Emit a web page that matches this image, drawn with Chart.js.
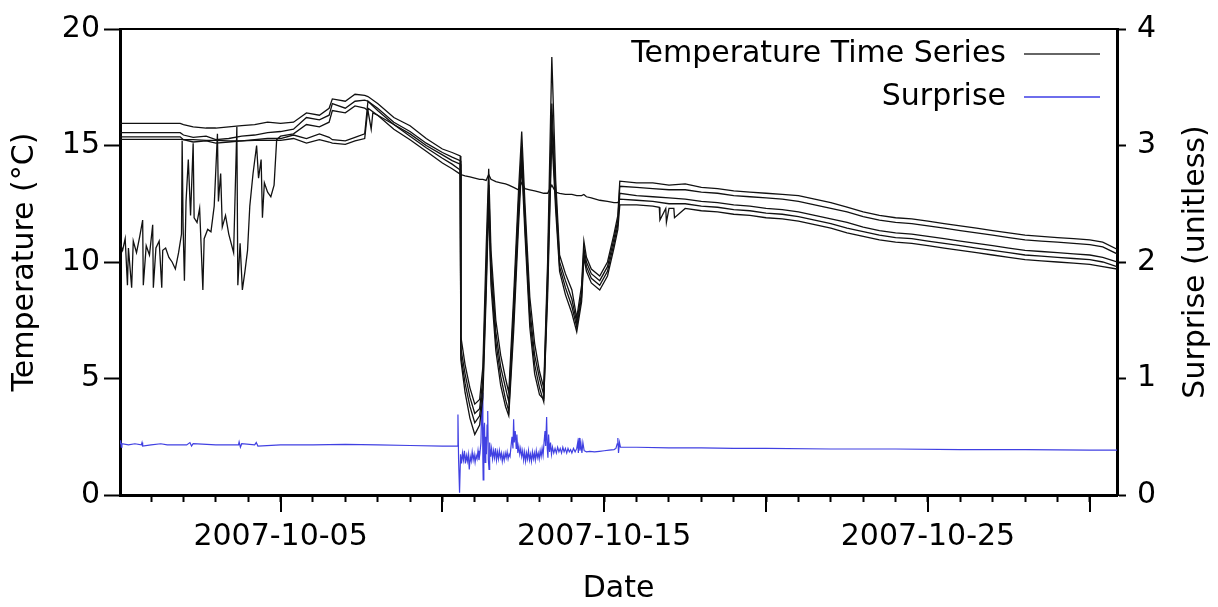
<!DOCTYPE html>
<html lang="en">
  <head>
    <meta charset="UTF-8" />
    <title>Temperature and Surprise</title>
    <script src="https://cdn.jsdelivr.net/npm/chart.js@4.4.0/dist/chart.umd.min.js"></script>
    <style>
      html, body { margin: 0; padding: 0; background: #fff; }
      canvas { display: block; }
    </style>
  </head>
  <body>
    <canvas id="chart" width="1218" height="607"></canvas>

    <script>
      // x values are days of October 2007 (5 = 2007-10-05 00:00)
      const xMin = 0.04;
      const xMax = 30.84;
      const labelDays = [5, 15, 25]; // days that get a date label
      const majorDays = [5, 10, 15, 20, 25, 30]; // days with a long tick

      // shared time grid for the four sensors below
      const days = [
        0.04, 0.5, 1.0, 1.5, 1.9, 2.0, 2.3, 2.7, 3.0, 3.4,
        3.8, 4.2, 4.6, 5.0, 5.4, 5.8, 6.2, 6.5, 6.6, 7.0,
        7.3, 7.6, 7.7, 8.0, 8.5, 9.0, 9.5, 10.0, 10.3, 10.55,
        10.57, 10.7, 10.85, 11.0, 11.15, 11.25, 11.35, 11.43, 11.5, 11.65,
        11.8, 11.95, 12.05, 12.2, 12.35, 12.45, 12.55, 12.7, 12.85, 13.0,
        13.13, 13.25, 13.38, 13.5, 13.62, 13.8, 14.0, 14.15, 14.3, 14.37,
        14.45, 14.6, 14.86, 15.1, 15.3, 15.42,
        15.48, 16.0, 16.5, 17.0, 17.5, 18.0, 18.5, 19.0, 19.5, 20.0,
        20.5, 21.0, 21.5, 22.0, 22.5, 23.0, 23.5, 24.0, 24.5, 25.0,
        25.5, 26.0, 26.5, 27.0, 27.5, 28.0, 28.5, 29.0, 29.5, 30.0,
        30.4, 30.84
      ];

      const tempA = [
        15.95, 15.95, 15.95, 15.95, 15.95, 15.9, 15.8, 15.75, 15.75, 15.8,
        15.85, 15.9, 16.0, 15.95, 16.0, 16.4, 16.3, 16.6, 17.0, 16.9,
        17.2, 17.15, 17.1, 16.8, 16.2, 15.85, 15.3, 14.85, 14.7, 14.55,
        6.8, 5.6, 4.6, 3.9, 4.1, 5.5, 10.5, 14.0, 10.5, 7.5,
        6.0, 5.0, 4.4, 8.5, 13.0, 15.6, 12.5, 8.5, 6.5, 5.3,
        4.6, 10.0, 18.8, 13.5, 10.3, 9.5, 8.8, 7.6, 9.0, 10.9,
        10.2, 9.7, 9.4, 10.0, 11.2, 12.0,
        13.47, 13.4, 13.4, 13.3, 13.35, 13.2, 13.15, 13.05, 13.0, 12.95,
        12.9, 12.85, 12.7, 12.55, 12.35, 12.15, 12.0, 11.9, 11.85, 11.75,
        11.65, 11.55, 11.45, 11.35, 11.25, 11.15, 11.1, 11.05, 11.0, 10.95,
        10.85, 10.55
      ];

      const tempB = [
        15.55, 15.55, 15.55, 15.55, 15.55, 15.45, 15.35, 15.4, 15.25, 15.3,
        15.4, 15.45, 15.55, 15.6, 15.7, 16.2, 16.1, 16.3, 16.8, 16.6,
        16.9, 16.95, 16.9, 16.6, 16.0, 15.6, 15.1, 14.7, 14.5, 14.35,
        6.3, 5.2, 4.2, 3.5, 3.7, 5.0, 9.5, 13.3, 10.0, 7.0,
        5.5, 4.6, 4.0, 8.0, 12.5, 15.0, 12.0, 8.0, 6.0, 5.0,
        4.3, 9.5, 16.8, 13.0, 10.0, 9.2, 8.4, 7.4, 8.7, 10.6,
        10.0, 9.5, 9.2, 9.8, 11.0, 11.8,
        13.25, 13.2, 13.15, 13.1, 13.1, 13.0, 12.95, 12.85, 12.8, 12.75,
        12.7, 12.6, 12.45, 12.3, 12.15, 11.95, 11.8, 11.7, 11.65, 11.55,
        11.45, 11.35, 11.25, 11.15, 11.05, 10.95, 10.9, 10.85, 10.8, 10.75,
        10.65, 10.35
      ];

      const tempC = [
        15.37, 15.37, 15.37, 15.37, 15.37, 15.25, 15.15, 15.2, 15.1, 15.15,
        15.2, 15.25, 15.3, 15.3, 15.45, 15.3, 15.5, 15.35, 15.25, 15.2,
        15.35, 15.5, 16.9, 16.5, 15.9, 15.4, 14.9, 14.45, 14.2, 13.95,
        6.0, 4.8, 3.8, 3.1, 3.4, 4.6, 9.0, 12.8, 9.5, 6.6,
        5.1, 4.1, 3.6, 7.5, 12.0, 14.6, 11.6, 7.6, 5.6, 4.6,
        4.0, 9.0, 16.0, 12.6, 9.8, 8.9, 8.1, 7.2, 8.5, 10.4,
        9.8, 9.3, 9.0, 9.6, 10.8, 11.6,
        12.95, 12.85, 12.8, 12.75, 12.7, 12.6, 12.55, 12.45, 12.4, 12.3,
        12.25, 12.15, 12.0, 11.85, 11.7, 11.5, 11.35, 11.25, 11.2, 11.1,
        11.0, 10.9, 10.8, 10.7, 10.6, 10.5, 10.45, 10.4, 10.35, 10.3,
        10.2, 10.0
      ];

      // this one never drops during the cold spell
      const tempD = [
        15.26, 15.26, 15.26, 15.26, 15.26, 15.25, 15.25, 15.22, 15.22, 15.2,
        15.2, 15.22, 15.22, 15.22, 15.3, 15.1, 15.25, 15.15, 15.1, 15.05,
        15.2, 15.3, 16.6, 16.3, 15.7, 15.25, 14.75, 14.25, 14.0, 13.77,
        13.75, 13.7, 13.65, 13.6, 13.55, 13.55, 13.5, 13.75, 13.55, 13.45,
        13.4, 13.35, 13.3, 13.2, 13.1, 13.4, 13.15, 13.1, 13.05, 13.0,
        12.95, 12.95, 13.3, 13.0, 12.95, 12.9, 12.9, 12.85, 12.85, 12.9,
        12.8, 12.75, 12.65, 12.6, 12.55, 12.55,
        12.7, 12.65, 12.6, 12.5, 12.5, 12.4, 12.35, 12.25, 12.2, 12.1,
        12.05, 11.95, 11.8, 11.65, 11.45, 11.3, 11.15, 11.05, 11.0, 10.9,
        10.8, 10.7, 10.6, 10.5, 10.4, 10.3, 10.25, 10.2, 10.15, 10.1,
        10.0, 9.8
      ];

      // noisy sensor, [day, temperature]
      const noisyPts = [
        [0.04, 10.8], [0.12, 10.5], [0.2, 11.0], [0.27, 9.0], [0.3, 10.6], [0.4, 8.9], [0.45, 10.9],
        [0.55, 10.4], [0.65, 11.1], [0.74, 11.8], [0.76, 9.0], [0.85, 10.7], [0.95, 10.3], [1.05, 11.6],
        [1.07, 8.9], [1.15, 10.6], [1.25, 10.9], [1.33, 8.9], [1.36, 10.5], [1.45, 10.6], [1.55, 10.2],
        [1.65, 10.0], [1.75, 9.7], [1.85, 10.4], [1.94, 11.2], [1.96, 15.2], [1.99, 11.5], [2.03, 9.2],
        [2.08, 12.6], [2.15, 14.4], [2.22, 12.0], [2.3, 15.1], [2.33, 11.9], [2.42, 11.7], [2.5, 12.3],
        [2.6, 8.8], [2.64, 11.0], [2.75, 11.4], [2.85, 11.3], [2.95, 12.4], [3.05, 15.5], [3.08, 12.6],
        [3.15, 13.8], [3.2, 11.5], [3.3, 12.0], [3.4, 11.2], [3.55, 10.4], [3.65, 15.8], [3.68, 9.0],
        [3.75, 10.8], [3.82, 8.8], [3.9, 9.6], [3.98, 10.5], [4.05, 12.4], [4.15, 13.8], [4.26, 15.0],
        [4.32, 13.6], [4.4, 14.4], [4.44, 11.9], [4.5, 13.4], [4.6, 13.0], [4.7, 12.8], [4.8, 13.3],
        [4.88, 15.25], [5.0, 15.4], [5.4, 15.5], [5.8, 15.9], [6.2, 15.8], [6.5, 16.0], [6.6, 16.5],
        [7.0, 16.4], [7.3, 16.7], [7.6, 16.6], [7.7, 16.5], [7.8, 15.7], [7.85, 16.4], [8.0, 16.3],
        [8.5, 15.9], [9.0, 15.5], [9.5, 15.0], [10.0, 14.6], [10.3, 14.35], [10.55, 14.2],
        [10.57, 5.8], [10.7, 4.4], [10.85, 3.3], [11.0, 2.6], [11.15, 3.0], [11.25, 4.2], [11.35, 8.5],
        [11.43, 12.5], [11.5, 9.0], [11.65, 6.2], [11.8, 4.7], [11.95, 3.8], [12.05, 3.4], [12.2, 7.0],
        [12.35, 11.5], [12.45, 14.2], [12.55, 11.2], [12.7, 7.2], [12.85, 5.2], [13.0, 4.3], [13.13, 4.1],
        [13.25, 8.5], [13.38, 15.4], [13.5, 12.2], [13.62, 9.6], [13.8, 8.6], [14.0, 7.8], [14.15, 7.0],
        [14.3, 8.3], [14.37, 10.2], [14.45, 9.6], [14.6, 9.1], [14.86, 8.8], [15.1, 9.4], [15.3, 10.6],
        [15.42, 11.4], [15.48, 12.45], [16.0, 12.45], [16.5, 12.4], [16.7, 12.35], [16.72, 11.8],
        [16.9, 12.3], [16.92, 11.7], [17.0, 12.3], [17.15, 12.3], [17.17, 11.9], [17.5, 12.3],
        [18.0, 12.2], [18.5, 12.15], [19.0, 12.05], [19.5, 12.0], [20.0, 11.9], [20.5, 11.85],
        [21.0, 11.75], [21.5, 11.6], [22.0, 11.45], [22.5, 11.25], [23.0, 11.1], [23.5, 10.95],
        [24.0, 10.85], [24.5, 10.8], [25.0, 10.7], [25.5, 10.6], [26.0, 10.5], [26.5, 10.4],
        [27.0, 10.3], [27.5, 10.2], [28.0, 10.1], [28.5, 10.05], [29.0, 10.0], [29.5, 9.95],
        [30.0, 9.9], [30.4, 9.8], [30.84, 9.7]
      ];

      // surprise, [day, value] on the right axis
      const surprisePts = [
        [0.04, 0.44], [0.06, 0.47], [0.08, 0.41], [0.1, 0.44], [0.3, 0.43], [0.5, 0.44], [0.7, 0.43],
        [0.72, 0.45], [0.74, 0.42], [1.0, 0.43], [1.3, 0.44], [1.5, 0.43], [2.1, 0.43], [2.2, 0.45],
        [2.25, 0.42], [2.3, 0.44], [3.0, 0.43], [3.7, 0.43], [3.72, 0.455], [3.76, 0.41], [3.8, 0.44],
        [4.2, 0.43], [4.25, 0.45], [4.3, 0.42], [5.0, 0.43], [6.0, 0.43], [7.0, 0.435], [8.0, 0.43],
        [9.0, 0.425], [10.0, 0.42], [10.46, 0.42], [10.48, 0.69], [10.5, 0.3], [10.53, 0.02],
        [10.56, 0.35], [10.59, 0.27], [10.62, 0.36], [10.65, 0.3], [10.68, 0.38], [10.71, 0.27],
        [10.74, 0.34], [10.77, 0.29], [10.8, 0.35], [10.83, 0.22], [10.86, 0.33], [10.89, 0.29],
        [10.92, 0.37], [10.95, 0.3], [10.98, 0.35], [11.01, 0.28], [11.04, 0.34], [11.07, 0.31],
        [11.1, 0.38], [11.13, 0.3], [11.16, 0.36], [11.19, 0.45], [11.21, 0.7], [11.23, 0.88],
        [11.25, 0.3], [11.26, 0.13], [11.28, 0.55], [11.3, 0.62], [11.32, 0.28], [11.34, 0.5],
        [11.36, 0.35], [11.38, 0.6], [11.4, 0.72], [11.42, 0.3], [11.44, 0.22], [11.46, 0.45],
        [11.49, 0.33], [11.52, 0.4], [11.55, 0.31], [11.58, 0.38], [11.61, 0.32], [11.64, 0.4],
        [11.67, 0.3], [11.7, 0.37], [11.73, 0.31], [11.76, 0.38], [11.79, 0.32], [11.82, 0.36],
        [11.85, 0.29], [11.88, 0.35], [11.91, 0.3], [11.94, 0.36], [11.97, 0.32], [12.0, 0.37],
        [12.03, 0.31], [12.06, 0.35], [12.09, 0.33], [12.12, 0.42], [12.15, 0.5], [12.18, 0.4],
        [12.2, 0.65], [12.22, 0.45], [12.25, 0.55], [12.28, 0.4], [12.3, 0.52], [12.33, 0.36],
        [12.36, 0.42], [12.39, 0.35], [12.42, 0.4], [12.45, 0.33], [12.48, 0.38], [12.51, 0.3],
        [12.54, 0.37], [12.57, 0.29], [12.6, 0.36], [12.63, 0.31], [12.66, 0.38], [12.69, 0.3],
        [12.72, 0.35], [12.75, 0.29], [12.78, 0.37], [12.81, 0.31], [12.84, 0.36], [12.87, 0.3],
        [12.9, 0.38], [12.93, 0.32], [12.96, 0.36], [12.99, 0.31], [13.02, 0.38], [13.05, 0.33],
        [13.08, 0.4], [13.11, 0.34], [13.14, 0.45], [13.17, 0.55], [13.19, 0.42], [13.22, 0.67],
        [13.24, 0.4], [13.26, 0.32], [13.28, 0.52], [13.31, 0.37], [13.34, 0.45], [13.37, 0.35],
        [13.4, 0.41], [13.44, 0.36], [13.48, 0.4], [13.52, 0.36], [13.56, 0.41], [13.6, 0.37],
        [13.64, 0.4], [13.68, 0.36], [13.72, 0.41], [13.76, 0.37], [13.8, 0.4], [13.84, 0.36],
        [13.88, 0.4], [13.92, 0.37], [13.96, 0.39], [14.0, 0.36], [14.05, 0.4], [14.1, 0.37],
        [14.15, 0.4], [14.18, 0.45], [14.2, 0.36], [14.22, 0.49], [14.25, 0.38], [14.28, 0.44],
        [14.31, 0.36], [14.34, 0.45], [14.38, 0.38], [14.45, 0.37], [14.55, 0.375], [14.7, 0.37],
        [14.85, 0.375], [15.0, 0.38], [15.15, 0.385], [15.3, 0.39], [15.36, 0.4], [15.4, 0.44],
        [15.42, 0.49], [15.44, 0.36], [15.47, 0.45], [15.5, 0.41], [15.6, 0.41], [16.0, 0.41],
        [17.0, 0.405], [18.0, 0.405], [19.0, 0.4], [20.0, 0.4], [22.0, 0.395], [24.0, 0.395],
        [26.0, 0.39], [28.0, 0.39], [30.0, 0.385], [30.84, 0.385]
      ];

      Chart.defaults.font.family = 'DejaVu Sans';
      Chart.defaults.font.size = 30;
      Chart.defaults.color = '#000';

      const tempColor = '#111';
      const surpriseColor = 'rgb(64, 64, 226)';

      function toXY(xs, ys) {
        return xs.map((x, i) => ({ x: x, y: ys[i] }));
      }
      function pairs(list) {
        return list.map(p => ({ x: p[0], y: p[1] }));
      }
      function tempSet(data) {
        return {
          label: 'Temperature Time Series',
          data: data,
          borderColor: tempColor,
          borderWidth: 1.3,
          pointRadius: 0,
          yAxisID: 'y'
        };
      }

      // top border, long ticks, right title and the legend
      const extras = {
        id: 'extras',
        afterDraw(chart) {
          const ctx = chart.ctx;
          const area = chart.chartArea;
          const xs = chart.scales.x;
          ctx.save();
          ctx.strokeStyle = '#000';
          ctx.lineWidth = 2;
          ctx.beginPath();
          ctx.moveTo(area.left, area.top);
          ctx.lineTo(area.right, area.top);
          ctx.stroke();

          ctx.beginPath();
          majorDays.forEach(d => {
            const px = Math.round(xs.getPixelForValue(d));
            ctx.moveTo(px, area.bottom);
            ctx.lineTo(px, area.bottom + 17);
          });
          ctx.stroke();

          // right axis title reads upward like the left one
          ctx.fillStyle = '#000';
          ctx.font = '30px "DejaVu Sans"';
          ctx.textAlign = 'center';
          ctx.textBaseline = 'middle';
          ctx.translate(1196, (area.top + area.bottom) / 2);
          ctx.rotate(-Math.PI / 2);
          ctx.fillText('Surprise (unitless)', 0, 0);
          ctx.restore();

          // legend, text first then the line sample
          ctx.save();
          ctx.font = '30px "DejaVu Sans"';
          ctx.textAlign = 'right';
          ctx.textBaseline = 'alphabetic';
          const entries = [
            { text: 'Temperature Time Series', color: '#666', y: 62 },
            { text: 'Surprise', color: 'rgb(110, 110, 236)', y: 105 }
          ];
          entries.forEach(e => {
            ctx.fillStyle = '#000';
            ctx.fillText(e.text, 1006, e.y);
            ctx.strokeStyle = e.color;
            ctx.lineWidth = 2;
            ctx.beginPath();
            ctx.moveTo(1024, e.y - 8);
            ctx.lineTo(1100, e.y - 8);
            ctx.stroke();
          });
          ctx.restore();
        }
      };

      const ctx = document.getElementById('chart').getContext('2d');
      const myChart = new Chart(ctx, {
        type: 'line',
        data: {
          datasets: [
            tempSet(toXY(days, tempA)),
            tempSet(toXY(days, tempB)),
            tempSet(toXY(days, tempC)),
            tempSet(toXY(days, tempD)),
            tempSet(pairs(noisyPts)),
            {
              label: 'Surprise',
              data: pairs(surprisePts),
              borderColor: surpriseColor,
              borderWidth: 1.2,
              pointRadius: 0,
              yAxisID: 'y2'
            }
          ]
        },
        options: {
          responsive: false,
          animation: false,
          devicePixelRatio: 1,
          layout: { padding: { top: 20, left: 0, right: 0, bottom: 0 } },
          plugins: {
            legend: { display: false },
            tooltip: { enabled: false }
          },
          scales: {
            x: {
              type: 'linear',
              min: xMin,
              max: xMax,
              afterFit: s => { s.height = 112; },
              border: { color: '#000', width: 3 },
              grid: { drawOnChartArea: false, tickLength: 7, tickColor: '#000', tickWidth: 2 },
              ticks: {
                stepSize: 1,
                includeBounds: false,
                autoSkip: false,
                maxRotation: 0,
                padding: 17,
                callback: v => labelDays.includes(v) ? '2007-10-' + String(v).padStart(2, '0') : ''
              },
              title: { display: true, text: 'Date', padding: { top: 0, bottom: 0 } }
            },
            y: {
              position: 'left',
              min: 0,
              max: 20,
              afterFit: s => { s.width = 120; },
              border: { color: '#000', width: 3 },
              grid: { drawOnChartArea: false, tickLength: 16, tickColor: '#000', tickWidth: 2 },
              ticks: { stepSize: 5, padding: 4 },
              title: { display: true, text: 'Temperature (°C)', padding: { top: 7, bottom: 0 } }
            },
            y2: {
              position: 'right',
              min: 0,
              max: 4,
              afterFit: s => { s.width = 101; },
              border: { color: '#000', width: 3 },
              grid: { drawOnChartArea: false, tickLength: 9, tickColor: '#000', tickWidth: 2 },
              ticks: { stepSize: 1, padding: 11 }
            }
          }
        },
        plugins: [extras]
      });
    </script>
  </body>
</html>
